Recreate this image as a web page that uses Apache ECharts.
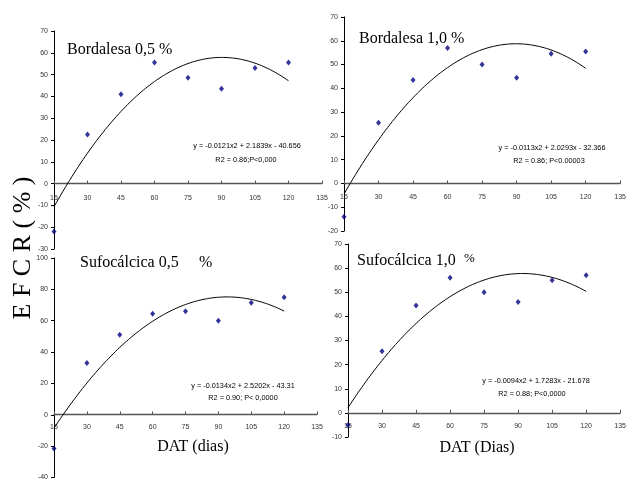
<!DOCTYPE html>
<html>
<head>
<meta charset="utf-8">
<script src="https://cdn.jsdelivr.net/npm/echarts@6/dist/echarts.min.js"></script>
<style>
html,body{margin:0;padding:0;background:#fff;}
#chart{width:629px;height:481px;}
</style>
</head>
<body>
<div id="chart"></div>
<script>
// ---- data ----
const days = [15, 30, 45, 60, 75, 90, 105, 120];
const bordalesa05 = [-22, 22.5, 41, 55.5, 48.5, 43.5, 53, 55.5];
const bordalesa10 = [-14, 25.5, 43.5, 57, 50, 44.5, 54.5, 55.5];
const sufocalcica05 = [-21.5, 33, 51, 64.5, 66, 60, 71.5, 75];
const sufocalcica10 = [-5, 25.5, 44.5, 56, 50, 46, 55, 57];
// trendline coefficients as printed on the chart: a*x^2 + b*x + c
const coefB05 = [-0.0121, 2.1839, -40.656];
const coefB10 = [-0.0113, 2.0293, -32.366];
const coefS05 = [-0.0134, 2.5202, -43.31];
const coefS10 = [-0.0094, 1.7283, -21.678];
const panelTitles = ['Bordalesa 0,5 %', 'Bordalesa 1,0 %', 'Sufocálcica 0,5', 'Sufocálcica 1,0'];
const eqTexts = ['y = -0.0121x2 + 2.1839x - 40.656', 'y = -0.0113x2 + 2.0293x - 32.366', 'y = -0.0134x2 + 2.5202x - 43.31', 'y = -0.0094x2 + 1.7283x - 21.678'];
const r2Texts = ['R2 = 0.86;P<0,000', 'R2 = 0.86; P<0.00003', 'R2 = 0.90; P< 0,0000', 'R2 = 0.88; P<0,0000'];
const yRanges = [[-30, 70, 10], [-20, 70, 10], [-40, 100, 20], [-10, 70, 10]];
const xRange = [15, 135, 15];
const xTitles = ['DAT (dias)', 'DAT (Dias)'];
const yTitle = 'E F C R ( % )';

const seriesVals = [bordalesa05, bordalesa10, sufocalcica05, sufocalcica10];
const coefs = [coefB05, coefB10, coefS05, coefS10];

function trend(c) {
  const pts = [];
  for (let x = days[0]; x <= days[days.length - 1]; x += 1) {
    pts.push([x, c[0] * x * x + c[1] * x + c[2]]);
  }
  return pts;
}

const grids = [
  {left: 54, top: 31, width: 268, height: 218},
  {left: 344, top: 17, width: 279, height: 214},
  {left: 54, top: 258, width: 263, height: 221},
  {left: 348, top: 244, width: 275, height: 193}
];
const xLabelMargins = [11, 10, 9, 10];

const xAxes = [], yAxes = [], series = [];
for (let i = 0; i < 4; i++) {
  const yr = yRanges[i];
  // place the x axis on the y = 0 line (as in the original)
  const zeroOffset = -(0 - yr[0]) / (yr[1] - yr[0]) * grids[i].height;
  xAxes.push({
    type: 'value', gridIndex: i, min: xRange[0], max: xRange[1], interval: xRange[2],
    position: 'bottom', offset: zeroOffset,
    splitLine: {show: false},
    axisLine: {onZero: false, lineStyle: {color: '#555', width: 1.3}},
    axisTick: {inside: true, length: 3, lineStyle: {color: '#555'}},
    axisLabel: {fontSize: 7, color: '#333', fontFamily: 'Liberation Sans, Arial', margin: xLabelMargins[i]}
  });
  yAxes.push({
    type: 'value', gridIndex: i, min: yr[0], max: yr[1], interval: yr[2],
    splitLine: {show: false},
    axisLine: {show: true, onZero: false, lineStyle: {color: '#000', width: 1}},
    axisTick: {show: true, length: 3, lineStyle: {color: '#000'}},
    axisLabel: {fontSize: 7, color: '#333', fontFamily: 'Liberation Sans, Arial', margin: 6}
  });
  series.push({
    type: 'line', xAxisIndex: i, yAxisIndex: i, data: trend(coefs[i]),
    showSymbol: false, silent: true, lineStyle: {color: '#000', width: 1}, z: 2
  });
  series.push({
    type: 'scatter', xAxisIndex: i, yAxisIndex: i,
    data: days.map((d, k) => [d, seriesVals[i][k]]),
    symbol: 'diamond', symbolSize: [5, 6], itemStyle: {color: '#000080'}, z: 3
  });
}

const serif = 'Liberation Serif, Times New Roman, serif';
const sans = 'Liberation Sans, Arial, sans-serif';
function txt(text, x, y, size, family, align, extra) {
  return Object.assign({
    type: 'text', x: x, y: y, silent: true,
    style: {text: text, fontSize: size, fontFamily: family, fill: '#000', textAlign: align || 'left', textVerticalAlign: 'middle'}
  }, extra || {});
}

const graphics = [
  txt(panelTitles[0], 67, 50, 16, serif),
  txt(panelTitles[1], 359, 39, 16, serif),
  txt(panelTitles[2], 80, 263, 16, serif),
  txt('%', 199, 263, 16, serif),
  txt(panelTitles[3], 357, 261, 16, serif),
  txt('%', 464, 259, 13, serif),
  txt(eqTexts[0], 247, 146, 7.3, sans, 'center'),
  txt(r2Texts[0], 246, 159.5, 7.3, sans, 'center'),
  txt(eqTexts[1], 552, 147.5, 7.3, sans, 'center'),
  txt(r2Texts[1], 549, 160.5, 7.3, sans, 'center'),
  txt(eqTexts[2], 243, 385.5, 7.3, sans, 'center'),
  txt(r2Texts[2], 243, 398, 7.3, sans, 'center'),
  txt(eqTexts[3], 536, 380.5, 7.3, sans, 'center'),
  txt(r2Texts[3], 532, 393.5, 7.3, sans, 'center'),
  txt(xTitles[0], 193, 447, 16, serif, 'center'),
  txt(xTitles[1], 477, 448, 16, serif, 'center'),
  txt(yTitle, 23, 248, 26, serif, 'center', {rotation: Math.PI / 2})
];

const chart = echarts.init(document.getElementById('chart'), null, {renderer: 'canvas'});
chart.setOption({
  animation: false,
  backgroundColor: '#fff',
  grid: grids,
  xAxis: xAxes,
  yAxis: yAxes,
  series: series,
  graphic: graphics
});
</script>
</body>
</html>
